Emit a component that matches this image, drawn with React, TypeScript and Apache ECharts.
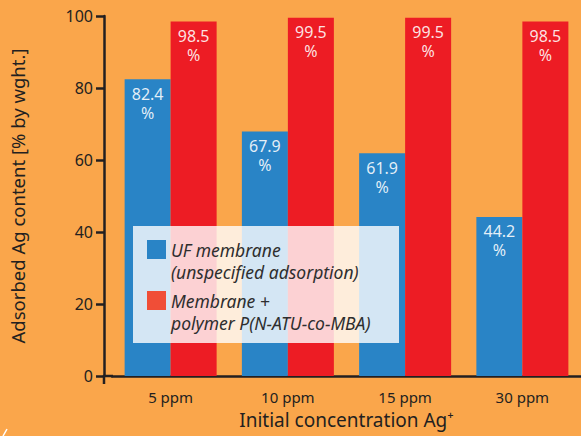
import React, { useEffect, useRef } from "react";
import * as echarts from "echarts";

const categories = ["5 ppm", "10 ppm", "15 ppm", "30 ppm"];
const ufMembrane = [82.4, 67.9, 61.9, 44.2];
const polymerMembrane = [98.5, 99.5, 99.5, 98.5];
const seriesNames = ["UF membrane", "Membrane +"];
const legendLabels = [
  ["UF membrane", "(unspecified adsorption)"],
  ["Membrane +", "polymer P(N-ATU-co-MBA)"],
];
const yTicks = { min: 0, max: 100, interval: 20 };

const FONT = "Noto Sans";
const DARK = "#231F20";

export default function App() {
  const ref = useRef<HTMLDivElement>(null);
  useEffect(() => {
    if (!ref.current) return;
    const chart = echarts.init(ref.current, null, { renderer: "svg" });
    const label = {
      show: true,
      position: "insideTop",
      distance: 5,
      formatter: (p: any) => `${p.value}\n%`,
      color: "rgba(255,255,255,0.88)",
      fontFamily: FONT,
      fontSize: 16,
      lineHeight: 19,
    };
    chart.setOption({
      animation: false,
      backgroundColor: "#FAA64B",
      textStyle: { fontFamily: FONT },
      grid: { left: 112, right: -3, top: 16, bottom: 60 },
      xAxis: {
        type: "category",
        data: categories,
        axisLine: { lineStyle: { color: DARK, width: 2.5 } },
        axisTick: { show: false },
        axisLabel: { color: DARK, fontSize: 15, margin: 13, fontFamily: FONT },
        name: "Initial concentration Ag\u207A",
        nameLocation: "middle",
        nameGap: 34,
        nameTextStyle: { color: DARK, fontSize: 19, fontFamily: FONT },
      },
      yAxis: {
        type: "value",
        min: yTicks.min,
        max: yTicks.max,
        interval: yTicks.interval,
        offset: 8,
        splitLine: { show: false },
        axisLine: { show: true, lineStyle: { color: DARK, width: 2.5 } },
        axisTick: { show: true, length: 8, lineStyle: { color: DARK, width: 2.5 } },
        axisLabel: { color: DARK, fontSize: 16, margin: 11, fontFamily: FONT },
        name: "Adsorbed Ag content [% by wght.]",
        nameLocation: "middle",
        nameRotate: 90,
        nameGap: 77,
        nameTextStyle: { color: DARK, fontSize: 18.5, fontFamily: FONT },
      },
      legend: {
        orient: "vertical",
        left: 147,
        top: 216.5,
        padding: 0,
        itemGap: -15,
        itemWidth: 19,
        itemHeight: 19,
        itemStyle: { borderWidth: 0 },
        icon: "rect",
        z: 200,
        data: [
          { name: seriesNames[0], itemStyle: { color: "#2984C6" } },
          { name: seriesNames[1], itemStyle: { color: "#F04E37" } },
        ],
        formatter: (name: string) => {
          const idx = seriesNames.indexOf(name);
          return "\n" + legendLabels[idx].join("\n");
        },
        textStyle: {
          fontStyle: "italic",
          fontSize: 17.5,
          lineHeight: 22,
          color: "#2e2e2e",
          fontFamily: FONT,
        },
        itemTextGap: 12,
        selectedMode: false,
      },
      graphic: [
        {
          type: "rect",
          shape: { x: 133, y: 226, width: 266, height: 117 },
          style: { fill: "rgba(255,255,255,0.8)" },
          z: 100,
          silent: true,
        },
        {
          type: "line",
          shape: { x1: 103, y1: 376, x2: 113, y2: 376 },
          style: { stroke: DARK, lineWidth: 2.5 },
          z: 50,
        },
        {
          type: "line",
          shape: { x1: 104, y1: 375, x2: 104, y2: 384 },
          style: { stroke: DARK, lineWidth: 2.5 },
          z: 50,
        },
        {
          type: "line",
          shape: { x1: 3, y1: 436, x2: 7, y2: 429 },
          style: { stroke: "#ffffff", lineWidth: 1.5 },
          z: 50,
        },
      ],
      series: [
        {
          name: seriesNames[0],
          type: "bar",
          data: ufMembrane,
          barWidth: 46,
          barGap: "0%",
          itemStyle: { color: "#2984C6" },
          label,
        },
        {
          name: seriesNames[1],
          type: "bar",
          data: polymerMembrane,
          barWidth: 46,
          barGap: "0%",
          itemStyle: { color: "#ED1C24" },
          label,
        },
      ],
    });
    return () => chart.dispose();
  }, []);
  return (
    <div
      ref={ref}
      style={{ position: "fixed", left: 0, top: 0, width: 581, height: 436 }}
    />
  );
}
